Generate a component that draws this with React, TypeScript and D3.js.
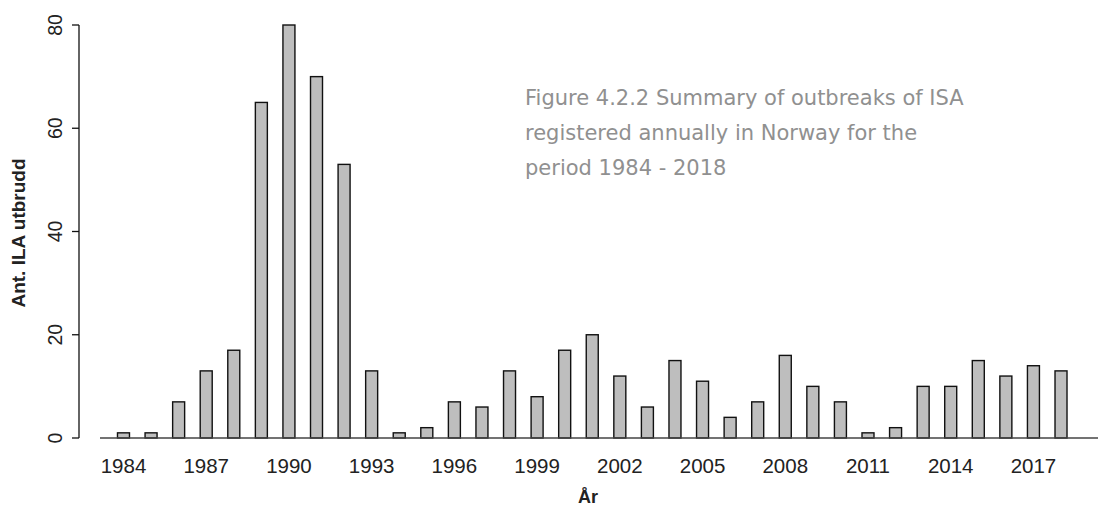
import React from "react";
import * as d3 from "d3";

const years: number[] = [
  1984, 1985, 1986, 1987, 1988, 1989, 1990, 1991, 1992, 1993,
  1994, 1995, 1996, 1997, 1998, 1999, 2000, 2001, 2002, 2003,
  2004, 2005, 2006, 2007, 2008, 2009, 2010, 2011, 2012, 2013,
  2014, 2015, 2016, 2017, 2018,
];
const outbreaks: number[] = [
  1, 1, 7, 13, 17, 65, 80, 70, 53, 13,
  1, 2, 7, 6, 13, 8, 17, 20, 12, 6,
  15, 11, 4, 7, 16, 10, 7, 1, 2, 10,
  10, 15, 12, 14, 13,
];
const xTickYears: number[] = [1984, 1987, 1990, 1993, 1996, 1999, 2002, 2005, 2008, 2011, 2014, 2017];
const yTicks: number[] = [0, 20, 40, 60, 80];
const captionLines: string[] = [
  "Figure 4.2.2 Summary of outbreaks of ISA",
  "registered annually in Norway for the",
  "period 1984 - 2018",
];
const yLabel = "Ant. ILA utbrudd";
const xLabel = "År";

const W = 1098;
const H = 508;
const AXIS_FONT = "'Liberation Sans', Arial, Helvetica, sans-serif";

export default function App() {
  const x = d3
    .scaleBand<string>()
    .domain(years.map(String))
    .range([109.7, 1074.8])
    .paddingInner(0.565)
    .paddingOuter(0.2825);
  const y = d3.scaleLinear().domain([0, 80]).range([438, 25]);
  const bw = x.bandwidth();
  const axisX = 79;

  return (
    <svg
      width={W}
      height={H}
      style={{ position: "absolute", left: 0, top: 0, background: "#fff" }}
    >
      {/* bars */}
      {years.map((yr, i) => (
        <rect
          key={yr}
          x={x(String(yr))}
          y={y(outbreaks[i])}
          width={bw}
          height={y(0) - y(outbreaks[i])}
          fill="#bebebe"
          stroke="#111"
          strokeWidth={1.4}
        />
      ))}
      {/* baseline */}
      <line x1={100} x2={W} y1={y(0)} y2={y(0)} stroke="#444" strokeWidth={1.6} />

      {/* y axis */}
      <line x1={axisX} x2={axisX} y1={y(0)} y2={y(80)} stroke="#111" strokeWidth={1.3} />
      {yTicks.map((t) => (
        <g key={t}>
          <line x1={axisX - 7} x2={axisX} y1={y(t)} y2={y(t)} stroke="#111" strokeWidth={1.3} />
          <text
            transform={`translate(61.5,${y(t)}) rotate(-90)`}
            textAnchor="middle"
            fontFamily={AXIS_FONT}
            fontSize={19.5}
            fill="#222"
          >
            {t}
          </text>
        </g>
      ))}
      <text
        transform={`translate(25,233) rotate(-90)`}
        textAnchor="middle"
        fontFamily={AXIS_FONT}
        fontSize={19}
        fontWeight="bold"
        fill="#222"
      >
        {yLabel}
      </text>

      {/* x tick labels */}
      {xTickYears.map((yr) => (
        <text
          key={yr}
          x={(x(String(yr)) as number) + bw / 2}
          y={473}
          textAnchor="middle"
          fontFamily={AXIS_FONT}
          fontSize={20.5}
          fill="#222"
        >
          {yr}
        </text>
      ))}
      <text
        x={588}
        y={503}
        textAnchor="middle"
        fontFamily={AXIS_FONT}
        fontSize={18}
        fontWeight="bold"
        fill="#222"
      >
        {xLabel}
      </text>

      {/* caption */}
      {captionLines.map((line, i) => (
        <text
          key={i}
          x={525}
          y={105 + i * 35}
          fontFamily="'DejaVu Sans', Verdana, sans-serif"
          fontSize={21}
          fill="#909090"
        >
          {line}
        </text>
      ))}
    </svg>
  );
}
